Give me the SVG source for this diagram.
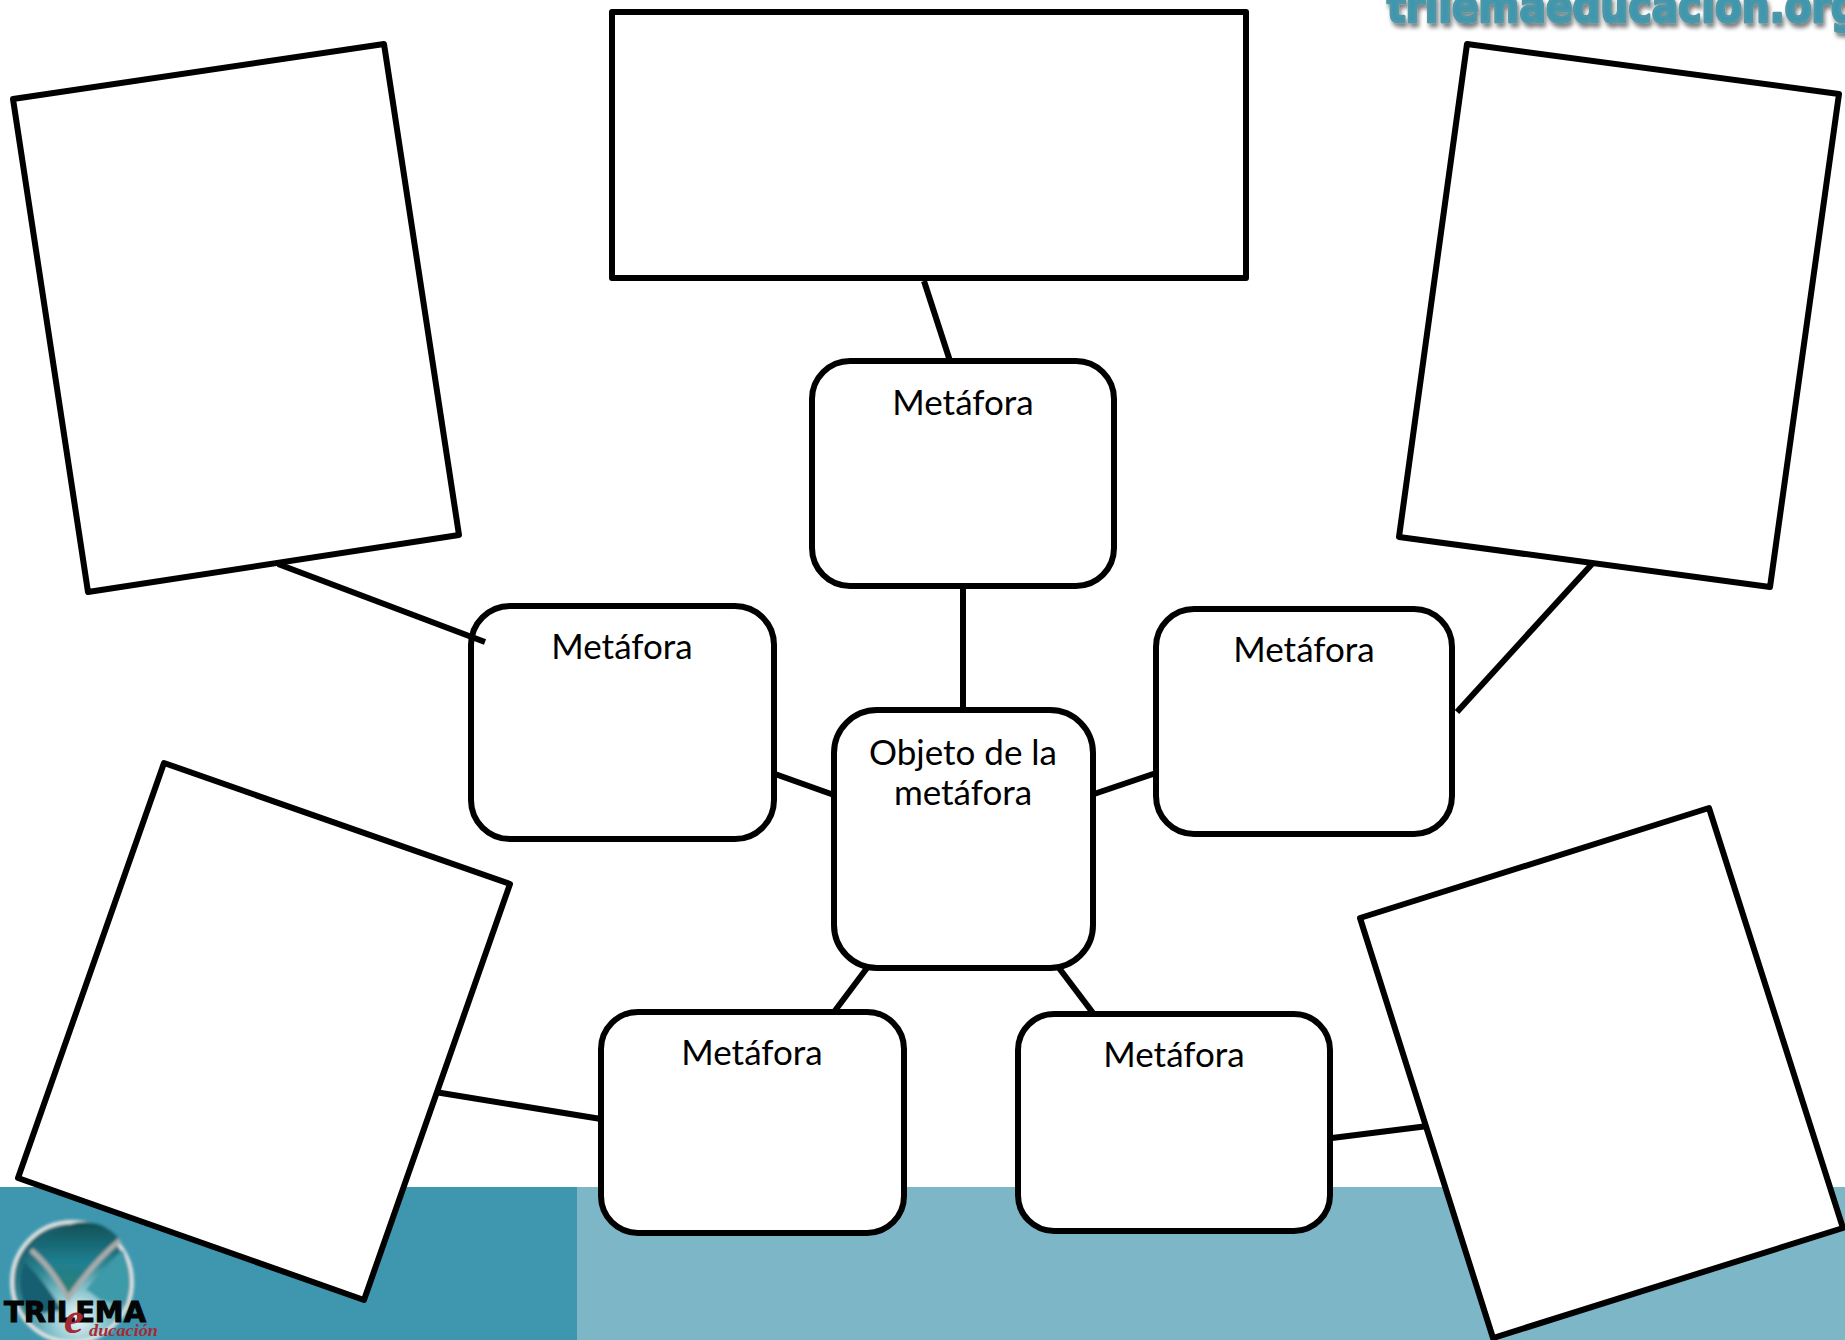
<svg xmlns="http://www.w3.org/2000/svg" width="1845" height="1340" viewBox="0 0 1845 1340">
<defs>
<style>
.box{fill:#fff;stroke:#000;stroke-width:6;stroke-linejoin:round}
.rbox{fill:#fff;stroke:#000;stroke-width:6}
.conn{stroke:#000;stroke-width:6;fill:none}
.lbl{font-family:"Lato","Open Sans",sans-serif;font-size:35px;fill:#000;text-anchor:middle}
</style>
<radialGradient id="globe" cx="0.55" cy="0.8" r="0.75"><stop offset="0" stop-color="#f2fafa"/><stop offset="0.3" stop-color="#8cc6cf"/><stop offset="0.65" stop-color="#2f8795"/><stop offset="1" stop-color="#17606c"/></radialGradient>
<linearGradient id="wedge" x1="0" y1="0" x2="0" y2="1"><stop offset="0" stop-color="#0f4f55"/><stop offset="0.55" stop-color="#1f7f90"/><stop offset="1" stop-color="#2d7f70"/></linearGradient>
<filter id="sh" x="-5%" y="-20%" width="110%" height="160%"><feDropShadow dx="2" dy="4" stdDeviation="2" flood-color="#000" flood-opacity="0.5"/></filter>
<filter id="bl" x="-20%" y="-20%" width="140%" height="140%"><feGaussianBlur stdDeviation="1.6"/></filter>
</defs>
<rect id="bg" width="1845" height="1340" fill="#fff"/>
<g id="bands">
<rect x="0" y="1187" width="577" height="153" fill="#3e97af"/>
<rect x="577" y="1187" width="1268" height="153" fill="#7db6c7"/>
</g>
<g id="website"><text x="1387" y="22" font-family="'DejaVu Sans',sans-serif" font-weight="bold" font-size="46" fill="#3e97af" stroke="#4f96a6" stroke-width="3" stroke-linejoin="round" filter="url(#sh)" textLength="472" lengthAdjust="spacingAndGlyphs">trilemaeducacion.org</text></g>
<g id="logo">
<g filter="url(#bl)">
<circle cx="72" cy="1282" r="60" fill="url(#globe)" stroke="#dfe3e3" stroke-width="4"/>
<path d="M32 1250 Q62 1222 82 1222 Q106 1222 120 1240 Q95 1262 68 1296 Q50 1268 32 1250Z" fill="url(#wedge)"/>
<path d="M24 1262 Q42 1278 62 1310 L30 1315 Q14 1290 24 1262Z" fill="#125f72"/>
<path d="M123 1250 Q134 1280 126 1305 L100 1300 Q88 1290 86 1290 Q104 1266 123 1250Z" fill="#3c9aa8"/>
<path d="M31 1250 Q52 1268 68 1298 Q92 1264 120 1240" fill="none" stroke="#a8acac" stroke-width="5"/>
</g>
<text x="4" y="1322" font-family="'DejaVu Sans',sans-serif" font-weight="bold" font-size="29" fill="#050505" stroke="#050505" stroke-width="1" textLength="142" lengthAdjust="spacingAndGlyphs">TRILEMA</text>
<text x="64" y="1333" font-family="'Liberation Serif',serif" font-style="italic" font-weight="bold" font-size="44" fill="#a52a35">e</text>
<text x="89" y="1336" font-family="'Liberation Serif',serif" font-style="italic" font-weight="bold" font-size="17" fill="#a52a35" textLength="69" lengthAdjust="spacingAndGlyphs">ducación</text>
</g>
<g id="connectors-under">
<line class="conn" x1="924" y1="281" x2="950" y2="361"/>
<line class="conn" x1="963" y1="586" x2="963" y2="710"/>
<line class="conn" x1="775" y1="774" x2="834" y2="795"/>
<line class="conn" x1="1094" y1="794" x2="1156" y2="773"/>
<line class="conn" x1="1592" y1="564" x2="1457" y2="712"/>
<line class="conn" x1="867" y1="968" x2="834" y2="1012"/>
<line class="conn" x1="1059" y1="968" x2="1093" y2="1013"/>
</g>
<g id="frame-top"><polygon class="box" points="612,12 1246,12 1246,278 612,278"/></g>
<g id="frame-left"><polygon class="box" points="13,99 384,44 459,535 88,592"/></g>
<g id="frame-right"><polygon class="box" points="1467,44 1839,94 1770,587 1399,537"/></g>
<g id="frame-bottom-left"><polygon class="box" points="164,763 510,884 364,1300 18,1178"/></g>
<g id="frame-bottom-right"><polygon class="box" points="1360,918 1709,808 1843,1228 1493,1338"/></g>
<g id="meta-top"><rect class="rbox" x="812" y="361" width="302" height="225" rx="38"/><text class="lbl" x="963" y="415">Metáfora</text></g>
<g id="meta-left"><rect class="rbox" x="471" y="606" width="303" height="233" rx="39"/><text class="lbl" x="622" y="659">Metáfora</text></g>
<g id="center"><rect class="rbox" x="834" y="710" width="259" height="258" rx="43"/><text class="lbl" x="963" y="765">Objeto de la</text><text class="lbl" x="963" y="805">metáfora</text></g>
<g id="meta-right"><rect class="rbox" x="1156" y="609" width="296" height="225" rx="38"/><text class="lbl" x="1304" y="662">Metáfora</text></g>
<g id="meta-bottom-left"><rect class="rbox" x="601" y="1012" width="303" height="221" rx="37"/><text class="lbl" x="752" y="1065">Metáfora</text></g>
<g id="meta-bottom-right"><rect class="rbox" x="1018" y="1014" width="312" height="217" rx="36"/><text class="lbl" x="1174" y="1067">Metáfora</text></g>
<g id="connectors-over">
<line class="conn" x1="278" y1="564" x2="485" y2="642"/>
<line class="conn" x1="435" y1="1092" x2="601" y2="1119"/>
<line class="conn" x1="1332" y1="1138" x2="1428" y2="1126"/>
</g>
</svg>
